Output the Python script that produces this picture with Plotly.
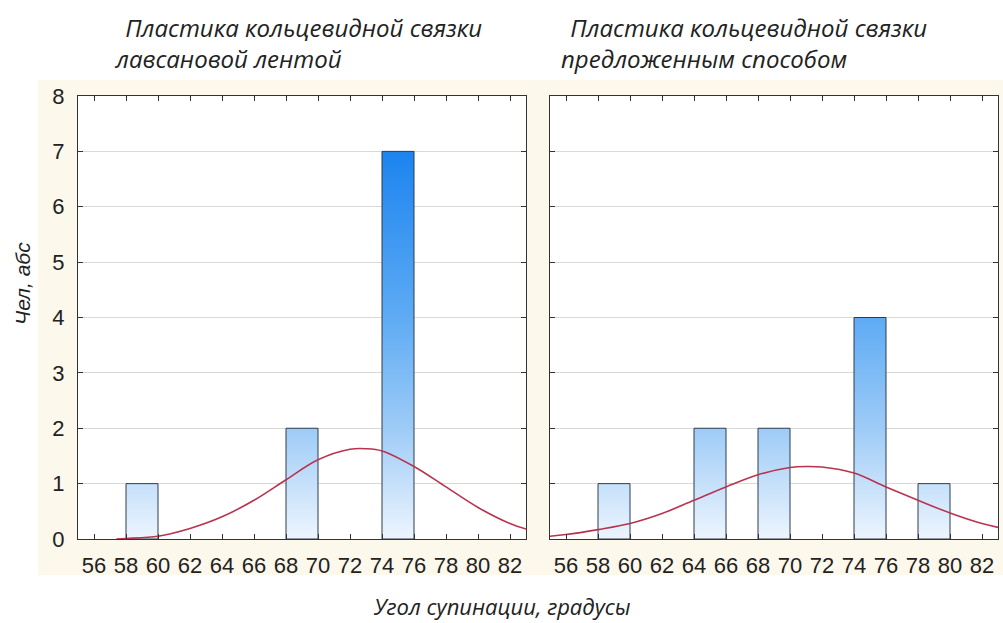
import plotly.graph_objects as go

# Histogram bins (left edge of each 2-degree bin) and counts
bin_width = 2
left_bins = [58, 68, 74]
left_counts = [1, 2, 7]
right_bins = [58, 64, 68, 74, 78]
right_counts = [1, 2, 2, 4, 1]

# Fitted normal curves (expected counts per bin)
left_curve_x = [57.4, 58, 60, 62, 64, 66, 68, 70, 72, 73, 74, 76, 78, 80, 82, 83]
left_curve_y = [0.0, 0.01, 0.05, 0.19, 0.40, 0.70, 1.07, 1.43, 1.62, 1.63, 1.59, 1.31, 0.94, 0.57, 0.28, 0.18]
right_curve_x = [55, 56, 58, 60, 62, 64, 66, 68, 70, 71, 72, 74, 76, 78, 80, 82, 83]
right_curve_y = [0.05, 0.08, 0.17, 0.28, 0.46, 0.70, 0.94, 1.16, 1.29, 1.31, 1.30, 1.19, 0.94, 0.70, 0.47, 0.28, 0.21]

x_ticks = list(range(56, 84, 2))
y_ticks = list(range(0, 9))

titles = [
    ["\u00a0Пластика кольцевидной связки", "лавсановой лентой"],
    ["\u00a0Пластика кольцевидной связки", "предложенным способом"],
]
x_title = "Угол супинации, градусы"
y_title = "Чел, абс"

W, H = 1003, 623
ML, MR, MT, MB = 78, 5, 96, 84
PW = W - ML - MR
PH = H - MT - MB
LEFT_END, RIGHT_START = 526, 550


def px(x):
    return (x - ML) / PW


def py(y):
    return (H - MB - y) / PH


bar_fill = [[0.0, "#EDF5FE"], [0.28, "#9FCCF7"], [0.57, "#5EABF4"], [1.0, "#1C84EF"]]


def bar_path(bins, counts):
    xs, ys = [], []
    for b, c in zip(bins, counts):
        xs += [b, b, b + bin_width, b + bin_width, b, None]
        ys += [0, c, c, 0, 0, None]
    return xs, ys


fig = go.Figure()
panels = [
    (left_bins, left_counts, left_curve_x, left_curve_y, "x", "y"),
    (right_bins, right_counts, right_curve_x, right_curve_y, "x2", "y2"),
]
for bins, counts, cx, cy, xa, ya in panels:
    bx, by = bar_path(bins, counts)
    fig.add_trace(go.Scatter(
        x=bx, y=by, xaxis=xa, yaxis=ya, mode="lines", fill="toself",
        fillgradient=dict(type="vertical", start=0, stop=7, colorscale=bar_fill),
        line=dict(color="#2E3C4C", width=1), hoverinfo="skip", showlegend=False,
    ))
    fig.add_trace(go.Scatter(
        x=cx, y=cy, xaxis=xa, yaxis=ya, mode="lines",
        line=dict(color="#B8344E", width=1.6, shape="spline", smoothing=1.0),
        showlegend=False,
    ))

axis_common = dict(
    showline=True, linecolor="#333333", linewidth=1, mirror="ticks",
    ticks="inside", ticklen=5, tickcolor="#333333", tickwidth=1,
    zeroline=False,
)
tick_font = dict(family="Liberation Sans, Arial, sans-serif", size=22, color="#222222")

xaxis = dict(axis_common, range=[55, 83], tickvals=x_ticks, showgrid=False,
             tickfont=tick_font, ticklabelstandoff=7)
yaxis = dict(axis_common, range=[0, 8], tickvals=y_ticks, showgrid=True,
             gridcolor="#D9D9D9", gridwidth=1, tickfont=tick_font, ticklabelstandoff=8)

fig.update_layout(
    width=W, height=H,
    margin=dict(l=ML, r=MR, t=MT, b=MB),
    paper_bgcolor="white", plot_bgcolor="white",
    xaxis=dict(xaxis, domain=[0, (LEFT_END - ML) / PW], anchor="y"),
    yaxis=dict(yaxis, domain=[0, 1], anchor="x"),
    xaxis2=dict(xaxis, domain=[(RIGHT_START - ML) / PW, 1], anchor="y2"),
    yaxis2=dict(yaxis, domain=[0, 1], anchor="x2", showticklabels=False),
)

# cream backdrop around the panels, with white plotting areas on top of it
fig.add_shape(type="rect", xref="paper", yref="paper", layer="below",
              x0=px(38), x1=px(W + 2), y0=py(575), y1=py(80),
              fillcolor="#FCF8EC", line=dict(width=0))
for x0, x1 in [(ML, LEFT_END), (RIGHT_START, W - MR)]:
    fig.add_shape(type="rect", xref="paper", yref="paper", layer="below",
                  x0=px(x0), x1=px(x1), y0=0, y1=1,
                  fillcolor="white", line=dict(width=0))

title_font = dict(family="Open Sans, sans-serif", size=24, color="#222222", style="italic")
title_pos = [((117, 27), (112, 59)), ((562, 27), (559, 59))]
for lines, pos in zip(titles, title_pos):
    for text, (tx, ty) in zip(lines, pos):
        fig.add_annotation(text=text, xref="paper", yref="paper", x=px(tx), y=py(ty),
                           xanchor="left", yanchor="middle", showarrow=False,
                           font=title_font)

fig.add_annotation(text=x_title, xref="paper", yref="paper", x=px(502), y=py(606),
                   xanchor="center", yanchor="middle", showarrow=False,
                   font=dict(title_font, size=22))
fig.add_annotation(text=y_title, xref="paper", yref="paper", x=px(22), y=py(284),
                   xanchor="center", yanchor="middle", showarrow=False, textangle=-90,
                   font=dict(family="Liberation Sans, Arial, sans-serif", size=21,
                             color="#222222", style="italic"))

fig.write_html("out.html")
